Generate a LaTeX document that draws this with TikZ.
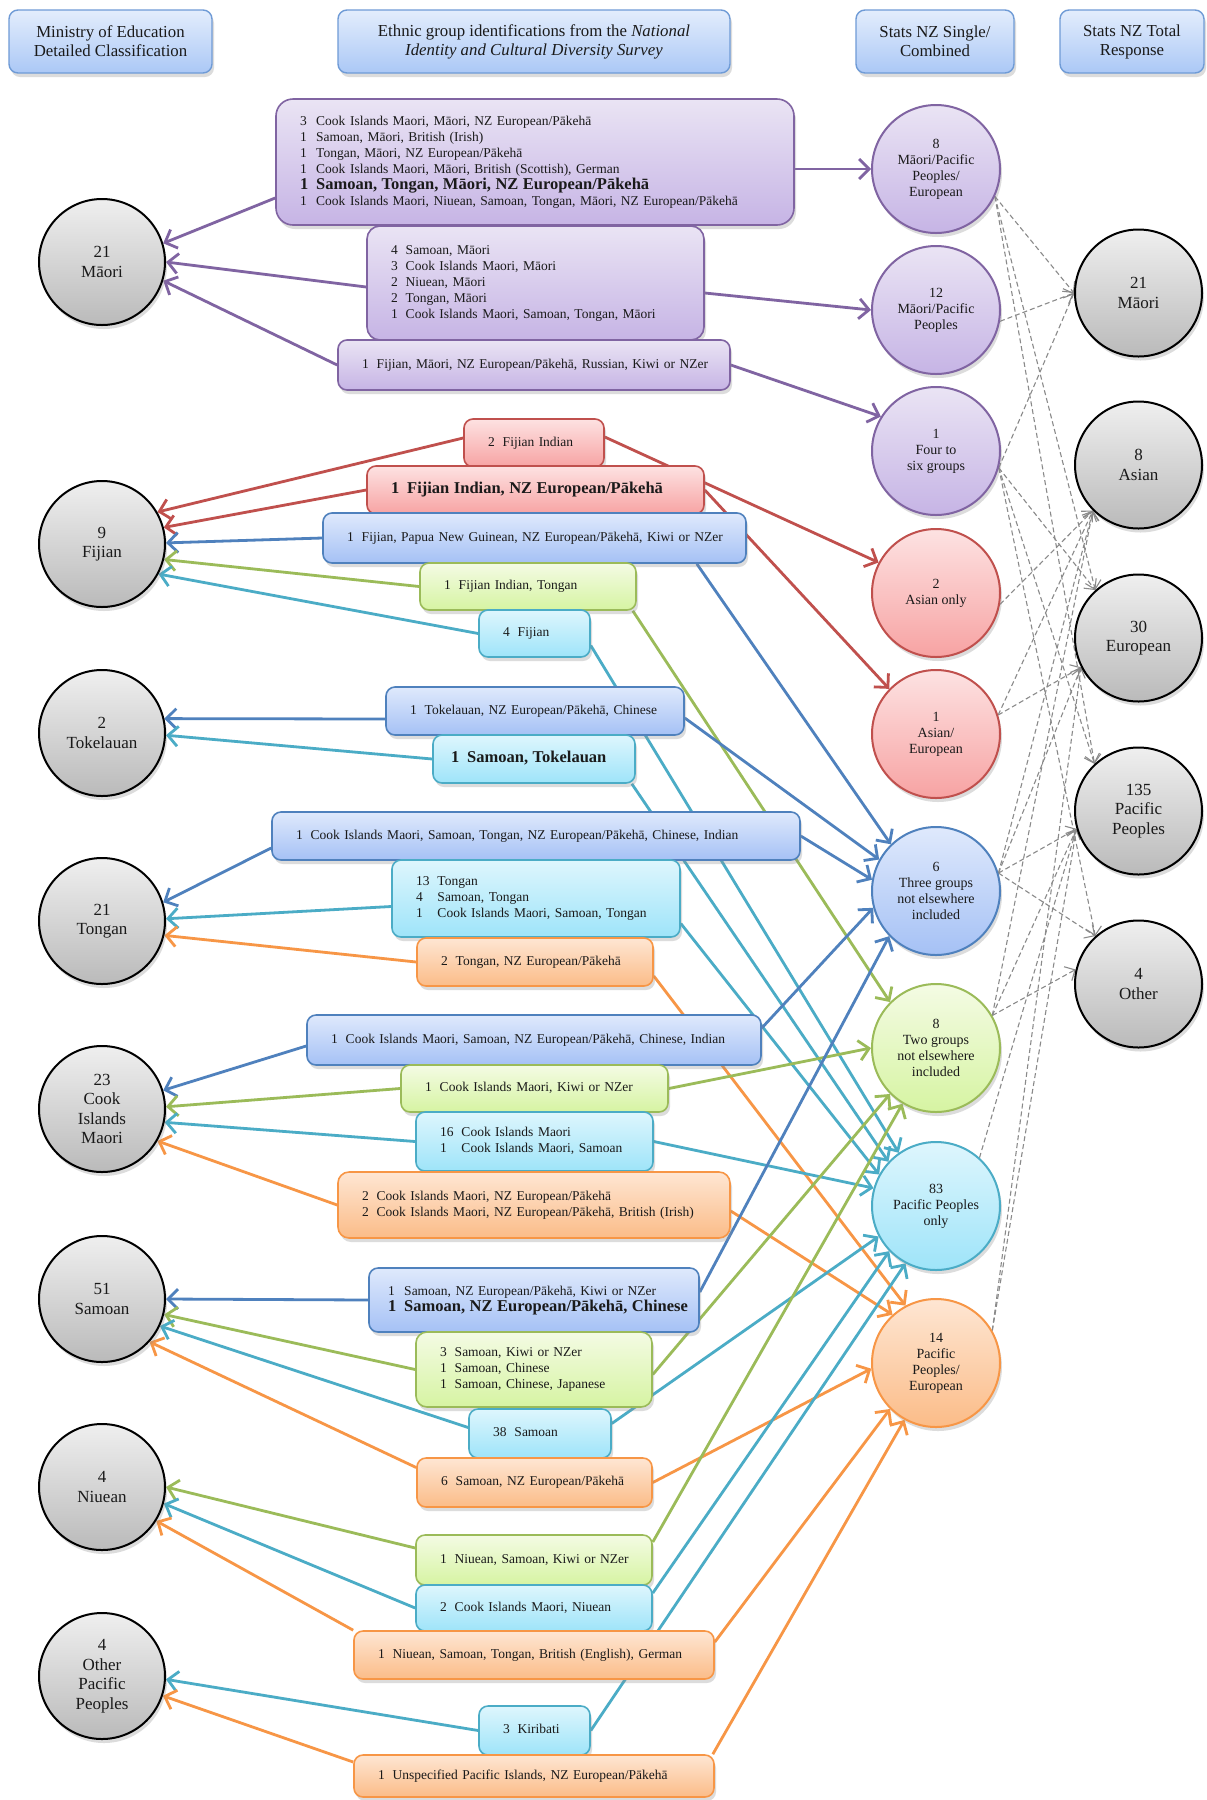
\documentclass[tikz,border=0pt]{standalone}
\usepackage{fontspec}
\setmainfont{Liberation Serif}
\usetikzlibrary{arrows.meta,shadows}
\pgfdeclarelayer{bg}
\pgfdeclarelayer{paper}
\pgfsetlayers{paper,bg,main}
\definecolor{Pu}{HTML}{8064A2}
\definecolor{PuT}{HTML}{EAE4F4}
\definecolor{PuB}{HTML}{C6B4E5}
\definecolor{Re}{HTML}{C0504D}
\definecolor{ReT}{HTML}{FDE2E2}
\definecolor{ReB}{HTML}{F7A3A3}
\definecolor{Bl}{HTML}{4F81BD}
\definecolor{BlT}{HTML}{DFE9FC}
\definecolor{BlB}{HTML}{A5C1F5}
\definecolor{Gr}{HTML}{9BBB59}
\definecolor{GrT}{HTML}{F4FBE4}
\definecolor{GrB}{HTML}{D6F4A2}
\definecolor{Cy}{HTML}{4BACC6}
\definecolor{CyT}{HTML}{DEF6FD}
\definecolor{CyB}{HTML}{9EE4F9}
\definecolor{Or}{HTML}{F79646}
\definecolor{OrT}{HTML}{FEE6D3}
\definecolor{OrB}{HTML}{FBBC88}
\definecolor{GyT}{HTML}{EFEFEF}
\definecolor{GyB}{HTML}{BABABA}
\definecolor{HdL}{HTML}{6F9BD6}
\definecolor{HdT}{HTML}{E3EDFC}
\definecolor{HdB}{HTML}{ABC8F6}
\definecolor{Dg}{HTML}{8A8A8A}
\definecolor{Txt}{HTML}{1A1A1A}
\newcommand{\bxf}{\fontsize{13.5}{16}\selectfont}
\newcommand{\bbx}{\fontsize{16.5}{16.5}\selectfont\bfseries}
\newcommand{\mylines}[1]{\begin{tabular}{@{}l@{\hspace{8pt}}l@{}}#1\end{tabular}}
\tikzset{
  shd/.style={drop shadow={shadow xshift=2pt,shadow yshift=-4pt,opacity=.3,fill=black!45}},
  bx/.style={shd,rounded corners=9pt,line width=1.6pt,inner xsep=24pt,inner ysep=0pt,align=left,font=\bxf,text=Txt},
  bPu/.style={bx,draw=Pu,top color=PuT,bottom color=PuB},
  bRe/.style={bx,draw=Re,top color=ReT,bottom color=ReB},
  bBl/.style={bx,draw=Bl,top color=BlT,bottom color=BlB},
  bGr/.style={bx,draw=Gr,top color=GrT,bottom color=GrB},
  bCy/.style={bx,draw=Cy,top color=CyT,bottom color=CyB},
  bOr/.style={bx,draw=Or,top color=OrT,bottom color=OrB},
  hd/.style={shd,rounded corners=9pt,draw=HdL,line width=1.4pt,top color=HdT,bottom color=HdB,align=center,font=\fontsize{16.8}{19}\selectfont,inner sep=0pt,text=Txt},
  cir/.style={circle,shd,line width=2pt,align=center,inner sep=0pt,text=Txt},
  gc/.style={cir,draw=black,top color=GyT,bottom color=GyB,font=\fontsize{17}{19.5}\selectfont},
  lc/.style={gc,minimum size=126pt},
  rc/.style={gc,minimum size=127pt},
  mc/.style={cir,minimum size=128pt,font=\fontsize{14}{16}\selectfont},
  mPu/.style={mc,draw=Pu,top color=PuT,bottom color=PuB},
  mRe/.style={mc,draw=Re,top color=ReT,bottom color=ReB},
  mBl/.style={mc,draw=Bl,top color=BlT,bottom color=BlB},
  mGr/.style={mc,draw=Gr,top color=GrT,bottom color=GrB},
  mCy/.style={mc,draw=Cy,top color=CyT,bottom color=CyB},
  mOr/.style={mc,draw=Or,top color=OrT,bottom color=OrB},
  conn/.style={line width=2.8pt,-{Straight Barb[length=10pt,width=20pt]}},
  lPu/.style={conn,draw=Pu},
  lRe/.style={conn,draw=Re},
  lBl/.style={conn,draw=Bl},
  lGr/.style={conn,draw=Gr},
  lCy/.style={conn,draw=Cy},
  lOr/.style={conn,draw=Or},
  dsh/.style={draw=Dg,line width=1.1pt,dash pattern=on 5pt off 3pt,-{Straight Barb[length=8pt,width=16pt]}}
}
\begin{document}
\begin{tikzpicture}[x=1pt,y=-1pt]
\useasboundingbox (0,0) rectangle (1207,1800);
\begin{pgfonlayer}{paper}
\fill[white] (0,0) rectangle (1207,1800);
\end{pgfonlayer}
% headers
\node[hd,minimum width=203pt,minimum height=63pt] (h1) at (110.5,41.5) {Ministry of Education\\Detailed Classification};
\node[hd,minimum width=392pt,minimum height=63pt] (h2) at (534,41.5) {Ethnic group identifications from the \textit{National}\\\textit{Identity and Cultural Diversity Survey}};
\node[hd,minimum width=158pt,minimum height=63pt] (h3) at (935,41.5) {Stats NZ Single/\\Combined};
\node[hd,minimum width=144pt,minimum height=63pt] (h4) at (1132,41.5) {Stats NZ Total\\Response};
% left circles
\node[lc] (lMaori) at (102,262) {21\\Māori};
\node[lc] (lFijian) at (102,544) {9\\Fijian};
\node[lc] (lTokelauan) at (102,733) {2\\Tokelauan};
\node[lc] (lTongan) at (102,921) {21\\Tongan};
\node[lc] (lCook) at (102,1109) {23\\Cook\\Islands\\Maori};
\node[lc] (lSamoan) at (102,1299) {51\\Samoan};
\node[lc] (lNiuean) at (102,1487) {4\\Niuean};
\node[lc] (lOther) at (102,1676) {4\\Other\\Pacific\\Peoples};
% middle circles
\node[mPu] (mA) at (936,169) {8\\Māori/Pacific\\Peoples/\\European};
\node[mPu] (mB) at (936,310) {12\\Māori/Pacific\\Peoples};
\node[mPu] (mC) at (936,451) {1\\Four to\\six groups};
\node[mRe] (mD) at (936,593) {2\\Asian only};
\node[mRe] (mE) at (936,734) {1\\Asian/\\European};
\node[mBl] (mF) at (936,891) {6\\Three groups\\not elsewhere\\included};
\node[mGr] (mG) at (936,1048) {8\\Two groups\\not elsewhere\\included};
\node[mCy] (mH) at (936,1206) {83\\Pacific Peoples\\only};
\node[mOr] (mI) at (936,1363) {14\\Pacific\\Peoples/\\European};
% right circles
\node[rc] (rMaori) at (1138.5,293) {21\\Māori};
\node[rc] (rAsian) at (1138.5,465) {8\\Asian};
\node[rc] (rEuropean) at (1138.5,638) {30\\European};
\node[rc] (rPacific) at (1138.5,811) {135\\Pacific\\Peoples};
\node[rc] (rOther) at (1138.5,984) {4\\Other};
% boxes
\node[bPu,rounded corners=17pt,minimum width=518pt,minimum height=126pt,text width=470pt] (b1) at (535,162) {\mylines{3 & Cook Islands Maori, Māori, NZ European/Pākehā\\1 & Samoan, Māori, British (Irish)\\1 & Tongan, Māori, NZ European/Pākehā\\1 & Cook Islands Maori, Māori, British (Scottish), German\\ \bbx 1 & \bbx Samoan, Tongan, Māori, NZ European/Pākehā\\1 & Cook Islands Maori, Niuean, Samoan, Tongan, Māori, NZ European/Pākehā}};
\node[bPu,rounded corners=13pt,minimum width=337pt,minimum height=114pt,text width=289pt] (b2) at (535.5,283) {\mylines{4 & Samoan, Māori\\3 & Cook Islands Maori, Māori\\2 & Niuean, Māori\\2 & Tongan, Māori\\1 & Cook Islands Maori, Samoan, Tongan, Māori}};
\node[bPu,minimum width=392pt,minimum height=50pt,text width=344pt] (b3) at (534,365) {\mylines{1 & Fijian, Māori, NZ European/Pākehā, Russian, Kiwi or NZer}};
\node[bRe,minimum width=140pt,minimum height=48pt,text width=92pt] (b4) at (534,443) {\mylines{2 & Fijian Indian}};
\node[bRe,minimum width=337pt,minimum height=48pt,text width=289pt] (b5) at (535.5,490) {\mylines{\bbx 1 & \bbx Fijian Indian, NZ European/Pākehā}};
\node[bBl,minimum width=423pt,minimum height=50pt,text width=375pt] (b6) at (534.5,538) {\mylines{1 & Fijian, Papua New Guinean, NZ European/Pākehā, Kiwi or NZer}};
\node[bGr,minimum width=216pt,minimum height=47pt,text width=168pt] (b7) at (528,586.5) {\mylines{1 & Fijian Indian, Tongan}};
\node[bCy,minimum width=111pt,minimum height=47pt,text width=63pt] (b8) at (534.5,633.5) {\mylines{4 & Fijian}};
\node[bBl,minimum width=298pt,minimum height=48pt,text width=250pt] (b9) at (535,711) {\mylines{1 & Tokelauan, NZ European/Pākehā, Chinese}};
\node[bCy,inner xsep=18pt,minimum width=202pt,minimum height=48pt,text width=166pt] (b10) at (534,759) {\mylines{\bbx 1 & \bbx Samoan, Tokelauan}};
\node[bBl,minimum width=528pt,minimum height=48pt,text width=480pt] (b11) at (536,836) {\mylines{1 & Cook Islands Maori, Samoan, Tongan, NZ European/Pākehā, Chinese, Indian}};
\node[bCy,minimum width=288pt,minimum height=77pt,text width=240pt] (b12) at (536,898.5) {\mylines{13 & Tongan\\4 & Samoan, Tongan\\1 & Cook Islands Maori, Samoan, Tongan}};
\node[bOr,minimum width=236pt,minimum height=48pt,text width=188pt] (b13) at (535,962) {\mylines{2 & Tongan, NZ European/Pākehā}};
\node[bBl,minimum width=454pt,minimum height=50pt,text width=406pt] (b14) at (534,1040) {\mylines{1 & Cook Islands Maori, Samoan, NZ European/Pākehā, Chinese, Indian}};
\node[bGr,minimum width=267pt,minimum height=47pt,text width=219pt] (b15) at (534.5,1088.5) {\mylines{1 & Cook Islands Maori, Kiwi or NZer}};
\node[bCy,minimum width=237pt,minimum height=59pt,text width=189pt] (b16) at (534.5,1141.5) {\mylines{16 & Cook Islands Maori\\1 & Cook Islands Maori, Samoan}};
\node[bOr,rounded corners=11pt,minimum width=392pt,minimum height=66pt,text width=344pt] (b17) at (534,1205) {\mylines{2 & Cook Islands Maori, NZ European/Pākehā\\2 & Cook Islands Maori, NZ European/Pākehā, British (Irish)}};
\node[bBl,inner xsep=19pt,minimum width=330pt,minimum height=64pt,text width=292pt] (b18) at (534,1300) {\mylines{1 & Samoan, NZ European/Pākehā, Kiwi or NZer\\ \bbx 1 & \bbx Samoan, NZ European/Pākehā, Chinese}};
\node[bGr,rounded corners=11pt,minimum width=236pt,minimum height=75pt,text width=188pt] (b19) at (534,1369.5) {\mylines{3 & Samoan, Kiwi or NZer\\1 & Samoan, Chinese\\1 & Samoan, Chinese, Japanese}};
\node[bCy,minimum width=142pt,minimum height=49pt,text width=94pt] (b20) at (540,1433.5) {\mylines{38 & Samoan}};
\node[bOr,minimum width=235pt,minimum height=49pt,text width=187pt] (b21) at (534.5,1482.5) {\mylines{6 & Samoan, NZ European/Pākehā}};
\node[bGr,minimum width=236pt,minimum height=50pt,text width=188pt] (b22) at (534,1560) {\mylines{1 & Niuean, Samoan, Kiwi or NZer}};
\node[bCy,minimum width=236pt,minimum height=46pt,text width=188pt] (b23) at (534,1608) {\mylines{2 & Cook Islands Maori, Niuean}};
\node[bOr,minimum width=360pt,minimum height=48pt,text width=312pt] (b24) at (534,1655) {\mylines{1 & Niuean, Samoan, Tongan, British (English), German}};
\node[bCy,minimum width=111pt,minimum height=49pt,text width=63pt] (b25) at (534.5,1730.5) {\mylines{3 & Kiribati}};
\node[bOr,minimum width=360pt,minimum height=42pt,text width=312pt] (b26) at (534,1776) {\mylines{1 & Unspecified Pacific Islands, NZ European/Pākehā}};
\begin{pgfonlayer}{bg}
% left connectors
\draw[lPu] ([yshift=-36pt]b1.west) -- (lMaori.17);
\draw[lPu] ([yshift=-4pt]b2.west) -- (lMaori.0);
\draw[lPu] (b3.west) -- (lMaori.-17);
\draw[lRe] ([yshift=5pt]b4.west) -- (lFijian.30);
\draw[lRe] (b5.west) -- (lFijian.15);
\draw[lBl] (b6.west) -- (lFijian.1);
\draw[lGr] (b7.west) -- (lFijian.-14);
\draw[lCy] (b8.west) -- (lFijian.-28);
\draw[lBl] ([yshift=-8pt]b9.west) -- (lTokelauan.13);
\draw[lCy] (b10.west) -- (lTokelauan.-2);
\draw[lBl] ([yshift=-12pt]b11.west) -- (lTongan.17);
\draw[lCy] ([yshift=-8pt]b12.west) -- (lTongan.2);
\draw[lOr] (b13.west) -- (lTongan.-13);
\draw[lBl] ([yshift=-6pt]b14.west) -- (lCook.17);
\draw[lGr] (b15.west) -- (lCook.2);
\draw[lCy] (b16.west) -- (lCook.-12);
\draw[lOr] (b17.west) -- (lCook.-30);
\draw[lBl] (b18.west) -- (lSamoan.0);
\draw[lGr] (b19.west) -- (lSamoan.-14);
\draw[lCy] ([yshift=6pt]b20.west) -- (lSamoan.-25);
\draw[lOr] ([yshift=15pt]b21.west) -- (lSamoan.-42);
\draw[lGr] ([yshift=12pt]b22.west) -- (lNiuean.0);
\draw[lCy] (b23.west) -- (lNiuean.-15);
\draw[lOr] (b24.north west) -- (lNiuean.-32);
\draw[lCy] (b25.west) -- (lOther.-3);
\draw[lOr] ([yshift=14pt]b26.west) -- (lOther.-18);
% right connectors
\draw[lPu] ([yshift=-7pt]b1.east) -- (mA.180);
\draw[lPu] ([yshift=-10pt]b2.east) -- (mB.180);
\draw[lPu] (b3.east) -- (mC.148);
\draw[lRe] ([yshift=6pt]b4.east) -- (mD.152);
\draw[lRe] (b5.east) -- (mE.136);
\draw[lBl] ([xshift=-50pt]b6.south east) -- (mF.134);
\draw[lGr] ([xshift=-4pt]b7.south east) -- (mG.135);
\draw[lCy] ([yshift=-12pt]b8.east) -- (mH.125);
\draw[lBl] ([yshift=-7pt]b9.east) -- (mF.151);
\draw[lCy] ([xshift=-4pt]b10.south east) -- (mH.137);
\draw[lBl] (b11.east) -- (mF.170);
\draw[lCy] ([yshift=-25pt]b12.east) -- (mH.151);
\draw[lOr] ([yshift=-14pt]b13.east) -- (mI.118);
\draw[lBl] ([yshift=12pt]b14.east) -- (mF.195);
\draw[lGr] (b15.east) -- (mG.180);
\draw[lCy] (b16.east) -- (mH.164);
\draw[lOr] ([yshift=-6pt]b17.east) -- (mI.132);
\draw[lBl] ([yshift=8pt]b18.east) -- (mF.224);
\draw[lGr] ([yshift=-5pt]b19.east) -- (mG.225);
\draw[lCy] ([yshift=10pt]b20.east) -- (mH.208);
\draw[lOr] (b21.east) -- (mI.185);
\draw[lGr] ([yshift=18pt]b22.east) -- (mG.239);
\draw[lCy] ([yshift=15pt]b23.east) -- (mH.224);
\draw[lOr] ([yshift=13pt]b24.east) -- (mI.225);
\draw[lCy] (b25.east) -- (mH.242);
\draw[lOr] ([xshift=-2pt]b26.north east) -- (mI.241);
% dashed
\draw[dsh] (mA.-25) -- (rMaori.180);
\draw[dsh] (mA.-25) -- (rEuropean.132);
\draw[dsh] (mA.-25) -- (rPacific.133);
\draw[dsh] (mB.-10) -- (rMaori.180);
\draw[dsh] (mC.-15) -- (rMaori.180);
\draw[dsh] (mC.-15) -- (rEuropean.132);
\draw[dsh] (mC.-15) -- (rPacific.133);
\draw[dsh] (mC.-15) -- (rOther.132);
\draw[dsh] (mD.-10) -- (rAsian.225);
\draw[dsh] (mE.17) -- (rAsian.225);
\draw[dsh] (mE.17) -- (rEuropean.207);
\draw[dsh] (mF.16) -- (rAsian.225);
\draw[dsh] (mF.16) -- (rEuropean.207);
\draw[dsh] (mF.16) -- (rPacific.196);
\draw[dsh] (mF.16) -- (rOther.132);
\draw[dsh] (mG.30) -- (rAsian.225);
\draw[dsh] (mG.30) -- (rPacific.196);
\draw[dsh] (mG.30) -- (rOther.167);
\draw[dsh] (mH.48) -- (rPacific.196);
\draw[dsh] (mI.30) -- (rEuropean.207);
\draw[dsh] (mI.30) -- (rPacific.196);
\end{pgfonlayer}
\end{tikzpicture}
\end{document}
